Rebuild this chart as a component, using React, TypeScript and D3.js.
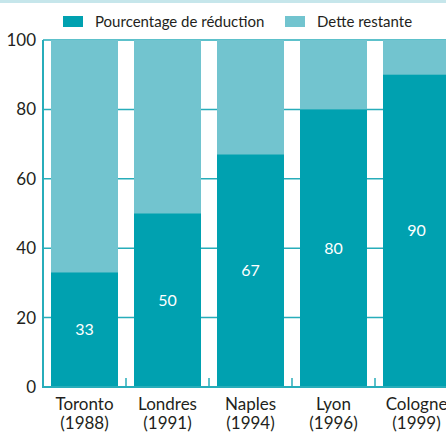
import React, { useEffect, useRef } from "react";
import * as d3 from "d3";

// villes et années
const cities = ["Toronto", "Londres", "Naples", "Lyon", "Cologne"];
const years = ["(1988)", "(1991)", "(1994)", "(1996)", "(1999)"];
// pourcentage de réduction de la dette
const reduction = [33, 50, 67, 80, 90];
const yTicks = [0, 20, 40, 60, 80, 100];
const legendLabels = ["Pourcentage de réduction", "Dette restante"];

const DARK = "#00a1b0";
const LIGHT = "#72c4cf";
const GRID = "#27adba";

const App = () => {
  const svgRef = useRef<SVGSVGElement>(null);

  useEffect(() => {
    document.body.style.margin = "0";
    const width = 446;
    const height = 433;
    const svg = d3.select(svgRef.current);
    svg.selectAll("*").remove();

    const x = d3
      .scaleBand()
      .domain(cities)
      .range([43, 458])
      .paddingInner(16 / 83)
      .paddingOuter(8 / 83);
    const y = d3.scaleLinear().domain([0, 100]).range([387, 40]);

    // bande claire en haut
    svg.append("rect").attr("x", 0).attr("y", 0).attr("width", width).attr("height", 3).attr("fill", "#c6e6eb");

    // grille
    svg
      .selectAll("line.grid")
      .data(yTicks)
      .enter()
      .append("line")
      .attr("x1", 43)
      .attr("x2", width)
      .attr("y1", (d) => y(d))
      .attr("y2", (d) => y(d))
      .attr("stroke", GRID)
      .attr("stroke-width", 1.5);

    // barres
    const g = svg
      .selectAll("g.bar")
      .data(cities)
      .enter()
      .append("g");

    g.append("rect")
      .attr("x", (d) => x(d)!)
      .attr("y", y(100))
      .attr("width", x.bandwidth())
      .attr("height", y(0) - y(100))
      .attr("fill", LIGHT);

    g.append("rect")
      .attr("x", (d) => x(d)!)
      .attr("y", (d, i) => y(reduction[i]))
      .attr("width", x.bandwidth())
      .attr("height", (d, i) => y(0) - y(reduction[i]))
      .attr("fill", DARK);

    g.append("text")
      .attr("x", (d) => x(d)! + x.bandwidth() / 2)
      .attr("y", (d, i) => y(reduction[i] / 2))
      .attr("dy", "0.35em")
      .attr("text-anchor", "middle")
      .attr("fill", "#ffffff")
      .style("font-family", "Lato, sans-serif")
      .style("font-size", "16px")
      .text((d, i) => reduction[i]);

    // axe gauche + base
    svg.append("line").attr("x1", 43).attr("x2", 43).attr("y1", 40).attr("y2", 388).attr("stroke", GRID).attr("stroke-width", 2);
    svg.append("line").attr("x1", 43).attr("x2", width).attr("y1", 387).attr("y2", 387).attr("stroke", GRID).attr("stroke-width", 2);

    // petites graduations entre les barres
    svg
      .selectAll("line.sep")
      .data(cities.slice(1))
      .enter()
      .append("line")
      .attr("x1", (d) => x(d)! - x.step() * (8 / 83))
      .attr("x2", (d) => x(d)! - x.step() * (8 / 83))
      .attr("y1", 378)
      .attr("y2", 387)
      .attr("stroke", GRID)
      .attr("stroke-width", 1.5);

    // étiquettes de l'axe y
    svg
      .selectAll("text.ytick")
      .data(yTicks)
      .enter()
      .append("text")
      .attr("x", 36)
      .attr("y", (d) => y(d))
      .attr("dy", "0.35em")
      .attr("text-anchor", "end")
      .attr("fill", "#231f20")
      .style("font-family", "Lato, sans-serif")
      .style("font-size", "17px")
      .text((d) => d);

    // étiquettes des catégories
    const cat = svg
      .selectAll("text.cat")
      .data(cities)
      .enter()
      .append("text")
      .attr("text-anchor", "middle")
      .attr("fill", "#231f20")
      .style("font-family", "Lato, sans-serif")
      .style("font-size", "17px");
    cat
      .append("tspan")
      .attr("x", (d) => x(d)! + x.bandwidth() / 2)
      .attr("y", 410)
      .text((d) => d);
    cat
      .append("tspan")
      .attr("x", (d) => x(d)! + x.bandwidth() / 2)
      .attr("y", 429)
      .text((d, i) => years[i]);

    // légende
    const legend = svg
      .selectAll("g.legend")
      .data(legendLabels)
      .enter()
      .append("g")
      .attr("transform", (d, i) => `translate(${i === 0 ? 63 : 285}, 16)`);
    legend
      .append("rect")
      .attr("width", 20)
      .attr("height", 11)
      .attr("fill", (d, i) => (i === 0 ? DARK : LIGHT));
    legend
      .append("text")
      .attr("x", 32)
      .attr("y", 11)
      .attr("fill", "#231f20")
      .style("font-family", "Lato, sans-serif")
      .style("font-size", "15px")
      .text((d) => d);
  }, []);

  return <svg ref={svgRef} width={446} height={433} style={{ display: "block", background: "#ffffff" }}></svg>;
};

export default App;
